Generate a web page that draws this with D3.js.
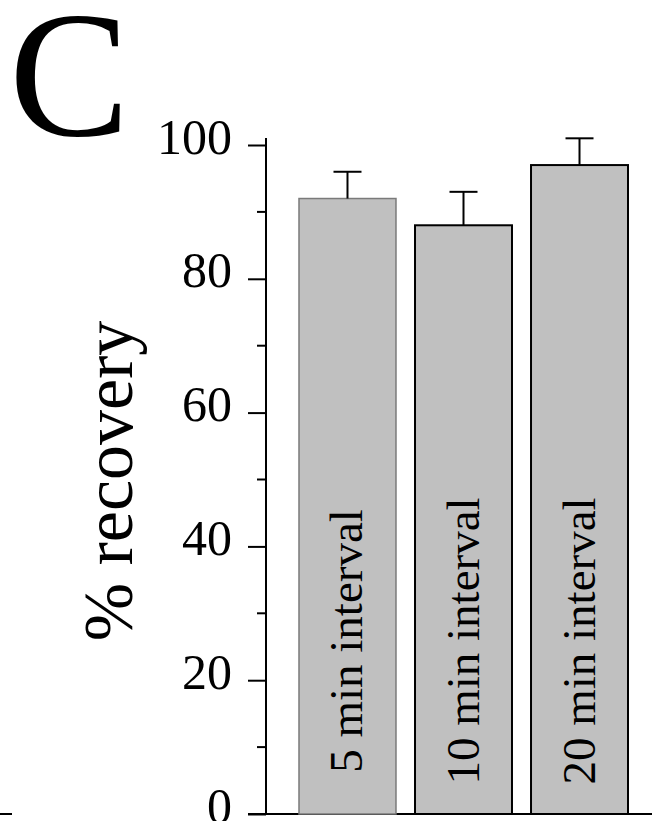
<!DOCTYPE html>
<html>
<head>
<meta charset="utf-8">
<script src="https://cdn.jsdelivr.net/npm/d3@7"></script>
<style>
  body { margin: 0; background: #fff; }
  svg { display: block; font-family: "Liberation Serif", "Times New Roman", serif; }
</style>
</head>
<body>
<svg id="chart" width="652" height="821"></svg>
<script>
const categories = ['5 min interval', '10 min interval', '20 min interval'];
const recovery = [92, 88, 97];
const errors = [4, 5, 4];
const majorTicks = [0, 20, 40, 60, 80, 100];
const minorTicks = [10, 30, 50, 70, 90];

const svg = d3.select('#chart');

const yScale = d3.scaleLinear()
  .domain([0, 100])
  .range([814, 145]);

const xScale = d3.scaleBand()
  .domain(categories)
  .range([299, 628])
  .paddingInner(0.164)
  .paddingOuter(0);

// panel letter
svg.append('text')
  .attr('x', 9)
  .attr('y', 135)
  .attr('font-size', 181)
  .text('C');

// y axis
const axisX = 266;
const yAxis = svg.append('g')
  .attr('transform', `translate(${axisX},0)`)
  .call(d3.axisLeft(yScale)
    .tickValues(majorTicks)
    .tickSize(18)
    .tickPadding(16)
    .tickSizeOuter(0));
yAxis.select('.domain').remove();
yAxis.selectAll('.tick line').attr('stroke', '#000').attr('stroke-width', 2);
yAxis.selectAll('.tick text')
  .attr('font-family', '"Liberation Serif", "Times New Roman", serif')
  .attr('font-size', 50)
  .attr('fill', '#000')
  .attr('dy', null)
  .attr('y', 8);

svg.append('g')
  .selectAll('line')
  .data(minorTicks)
  .join('line')
  .attr('x1', axisX - 9)
  .attr('x2', axisX)
  .attr('y1', d => yScale(d))
  .attr('y2', d => yScale(d))
  .attr('stroke', '#000')
  .attr('stroke-width', 2);

svg.append('line')
  .attr('x1', axisX).attr('x2', axisX)
  .attr('y1', yScale(0)).attr('y2', yScale(100) - 7)
  .attr('stroke', '#000')
  .attr('stroke-width', 2);

// baseline
svg.append('line')
  .attr('x1', axisX - 18).attr('x2', 652)
  .attr('y1', yScale(0)).attr('y2', yScale(0))
  .attr('stroke', '#000')
  .attr('stroke-width', 2);

// stray dash from neighbouring panel
svg.append('line')
  .attr('x1', 0).attr('x2', 12)
  .attr('y1', yScale(0)).attr('y2', yScale(0))
  .attr('stroke', '#000')
  .attr('stroke-width', 2);

// y label
svg.append('text')
  .attr('transform', `translate(132, 481) rotate(-90)`)
  .attr('text-anchor', 'middle')
  .attr('font-size', 70)
  .text('% recovery');

// bars
const bars = svg.append('g')
  .selectAll('g')
  .data(categories)
  .join('g');

bars.append('rect')
  .attr('x', d => xScale(d))
  .attr('y', (d, i) => yScale(recovery[i]))
  .attr('width', xScale.bandwidth())
  .attr('height', (d, i) => yScale(0) - yScale(recovery[i]))
  .attr('fill', '#c0c0c0')
  .attr('stroke', (d, i) => i === 0 ? '#7a7a7a' : '#000')
  .attr('stroke-width', (d, i) => i === 0 ? 1.5 : 2);

// error bars (upper only)
const capW = 28;
bars.append('line')
  .attr('x1', d => xScale(d) + xScale.bandwidth() / 2)
  .attr('x2', d => xScale(d) + xScale.bandwidth() / 2)
  .attr('y1', (d, i) => yScale(recovery[i]))
  .attr('y2', (d, i) => yScale(recovery[i] + errors[i]))
  .attr('stroke', '#000')
  .attr('stroke-width', 2);

bars.append('line')
  .attr('x1', d => xScale(d) + xScale.bandwidth() / 2 - capW / 2)
  .attr('x2', d => xScale(d) + xScale.bandwidth() / 2 + capW / 2)
  .attr('y1', (d, i) => yScale(recovery[i] + errors[i]))
  .attr('y2', (d, i) => yScale(recovery[i] + errors[i]))
  .attr('stroke', '#000')
  .attr('stroke-width', 2);

// labels inside the bars
bars.append('text')
  .attr('transform', d => `translate(${xScale(d) + xScale.bandwidth() / 2 + 15}, 641) rotate(-90)`)
  .attr('text-anchor', 'middle')
  .attr('font-size', 47)
  .text(d => d);
</script>
</body>
</html>
